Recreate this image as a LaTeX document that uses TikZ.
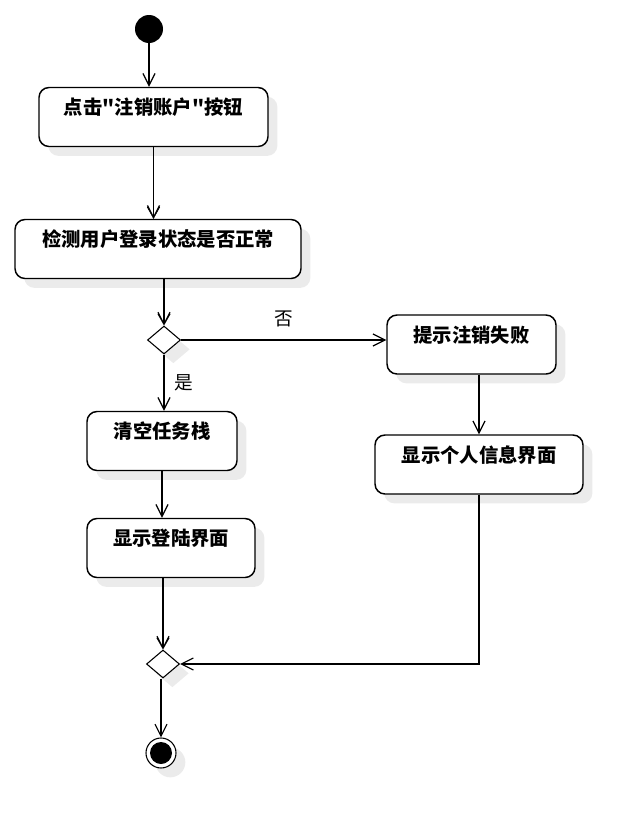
\documentclass[tikz,border=0pt]{standalone}
\usepackage{fontspec}
\newfontfamily\cjk{Noto Sans CJK SC}
\usetikzlibrary{arrows.meta,shapes.geometric,shadows}

\begin{document}
\begin{tikzpicture}[x=0.75pt,y=0.75pt,
  shadowed/.style={drop shadow={shadow xshift=7pt,shadow yshift=-7pt,fill=black!8,opacity=1}},
  act/.style={draw,line width=1.1pt,rounded corners=7.5pt,fill=white,shadowed,
    font=\cjk\bfseries\fontsize{14.5}{17}\selectfont,inner sep=0pt,
    text height=20.25pt,text depth=24pt},
  choice/.style={diamond,draw,line width=0.8pt,fill=white,shadowed,inner sep=0pt,
    minimum width=24.75pt,minimum height=21pt},
  flow/.style={-{Straight Barb[length=9pt,width=9pt]},line width=0.9pt},
  guard/.style={font=\cjk\fontsize{14}{17}\selectfont}]
  \useasboundingbox (0,0) rectangle (643,-832);

  \node[circle,fill=black,inner sep=0pt,minimum size=21pt] (start) at (149,-29) {};
  \node[act,minimum width=171.75pt] (click) at (153.5,-117) {点击"注销账户"按钮};
  \node[act,minimum width=214.5pt] (check) at (158,-249) {检测用户登录状态是否正常};
  \node[choice] (dec) at (164,-340) {};
  \node[act,minimum width=126.75pt] (fail) at (471.5,-344.5) {提示注销失败};
  \node[act,minimum width=112.5pt] (clear) at (162,-441) {清空任务栈};
  \node[act,minimum width=156pt] (info) at (479,-464.5) {显示个人信息界面};
  \node[act,minimum width=126pt] (login) at (171,-548) {显示登陆界面};
  \node[choice] (merge) at (163,-664) {};
  \node[circle,draw,line width=0.8pt,fill=white,shadowed,inner sep=0pt,minimum size=22.5pt] (stop) at (161,-753) {};
  \fill (stop.center) circle (8.25pt);

  \coordinate (inCheck) at (click |- check.north);
  \coordinate (inDec) at (dec.north);
  \coordinate (inMerge) at (merge.north);

  \draw[flow] (start) -- (start |- click.north);
  \draw[flow] (click) -- (inCheck);
  \draw[flow] (dec |- check.south) -- (inDec);
  \draw[flow] (dec) -- (dec -| fail.west) node[guard,midway,above=6pt] {否};
  \draw[flow] (dec) -- (dec |- clear.north) node[guard,midway,right=4pt] {是};
  \draw[flow] (info |- fail.south) -- (info);
  \draw[flow] (clear) -- (clear |- login.north);
  \draw[flow] (merge |- login.south) -- (inMerge);
  \draw[flow] (info) |- (merge);
  \draw[flow] (merge.south -| stop) -- (stop);

  % heads again on the downward joins, as thin filled wedges
  \foreach \h in {inCheck,inDec,inMerge}{
    \fill (\h) -- ++(-4.9pt,8.6pt) -- ++(0.8pt,0.4pt) -- (\h) -- cycle;
    \fill (\h) -- ++(4.9pt,8.6pt) -- ++(-0.8pt,0.4pt) -- (\h) -- cycle;
  }
\end{tikzpicture}
\end{document}
